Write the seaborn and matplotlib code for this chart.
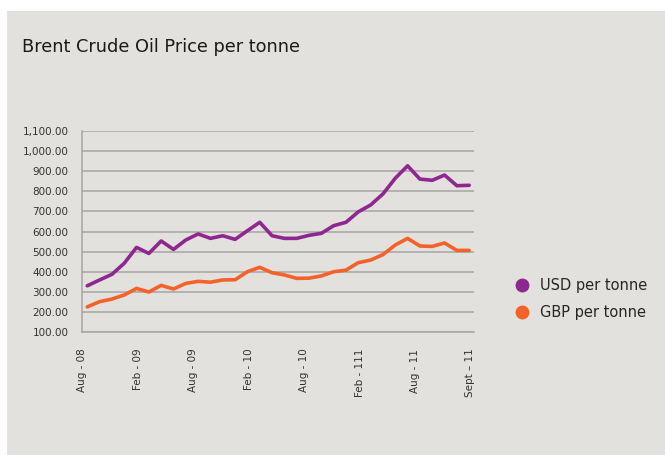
import matplotlib
matplotlib.use('Agg')
import matplotlib.pyplot as plt
import matplotlib.patches as mpatches
from matplotlib.lines import Line2D
from matplotlib.ticker import FuncFormatter, MultipleLocator
import seaborn as sns
import pandas as pd

# values, one point per vertex
usd = [330, 359, 387, 442, 521, 491, 553, 511, 558, 588, 566,
       579, 561, 604, 646, 579, 566, 566, 581, 591, 629,
       646, 698, 732, 787, 865, 927, 861, 855, 881, 828, 830]
gbp = [225, 251, 264, 284, 317, 299, 332, 314, 342, 352, 348,
       359, 360, 400, 422, 395, 384, 367, 368, 379, 400,
       408, 445, 458, 485, 533, 566, 528, 526, 543, 506, 506]
tick_labels = ['Aug - 08', 'Feb - 09', 'Aug - 09', 'Feb - 10', 'Aug - 10',
               'Feb - 111', 'Aug - 11', 'Sept \u2013 11']
tick_pos = [-0.4, 4.1, 8.6, 13.1, 17.6, 22.1, 26.6, 31.1]
series = ['USD per tonne', 'GBP per tonne']
colors = ['#8E278F', '#F4622A']

df = pd.DataFrame({
    'idx': list(range(len(usd))) * 2,
    'price': usd + gbp,
    'series': [series[0]] * len(usd) + [series[1]] * len(gbp),
})

bg = '#E2E1DD'
sns.set_style('white')
plt.rcParams['font.family'] = ['DejaVu Sans']

fig = plt.figure(figsize=(6.65, 4.55), dpi=100, facecolor='white')
fig.patches.append(mpatches.Rectangle((7 / 665, 0), 1, 1 - 11 / 455,
                                      transform=fig.transFigure,
                                      facecolor=bg, edgecolor='none', zorder=-5))
ax = fig.add_axes([0.1238, 0.2703, 0.5897, 0.4417])
ax.set_facecolor(bg)

sns.lineplot(data=df, x='idx', y='price', hue='series', palette=colors,
             linewidth=2.6, ax=ax, legend=False, zorder=3)

ax.set_xlim(-0.4, 31.43)
ax.set_ylim(100, 1100)
ax.yaxis.set_major_locator(MultipleLocator(100))
ax.yaxis.set_major_formatter(FuncFormatter(lambda v, p: f'{v:,.2f}'))
ax.grid(axis='y', color='#A6A6A6', linewidth=1.1)
ax.set_xticks(tick_pos)
ax.set_xticklabels(tick_labels, rotation=90, fontsize=7.5, color='#333333')
ax.tick_params(axis='y', labelsize=7.5, labelcolor='#333333', length=0, pad=10)
ax.tick_params(axis='x', length=0, pad=12)
ax.set_xlabel('')
ax.set_ylabel('')
for side in ['top', 'right']:
    ax.spines[side].set_visible(False)
for side in ['left', 'bottom']:
    ax.spines[side].set_color('#A6A6A6')
    ax.spines[side].set_linewidth(1.1)

handles = [Line2D([], [], linestyle='none', marker='o', markersize=9,
                  color=c) for c in colors]
fig.legend(handles, series, loc='center left', bbox_to_anchor=(0.744, 0.343),
           frameon=False, fontsize=10.5, handletextpad=0.2, labelspacing=0.85)

fig.text(22 / 665, 1 - 47 / 455, 'Brent Crude Oil Price per tonne',
         fontsize=12.8, va='center', ha='left', color='#1a1a1a')

fig.savefig('out.png', dpi=100, facecolor='white')
